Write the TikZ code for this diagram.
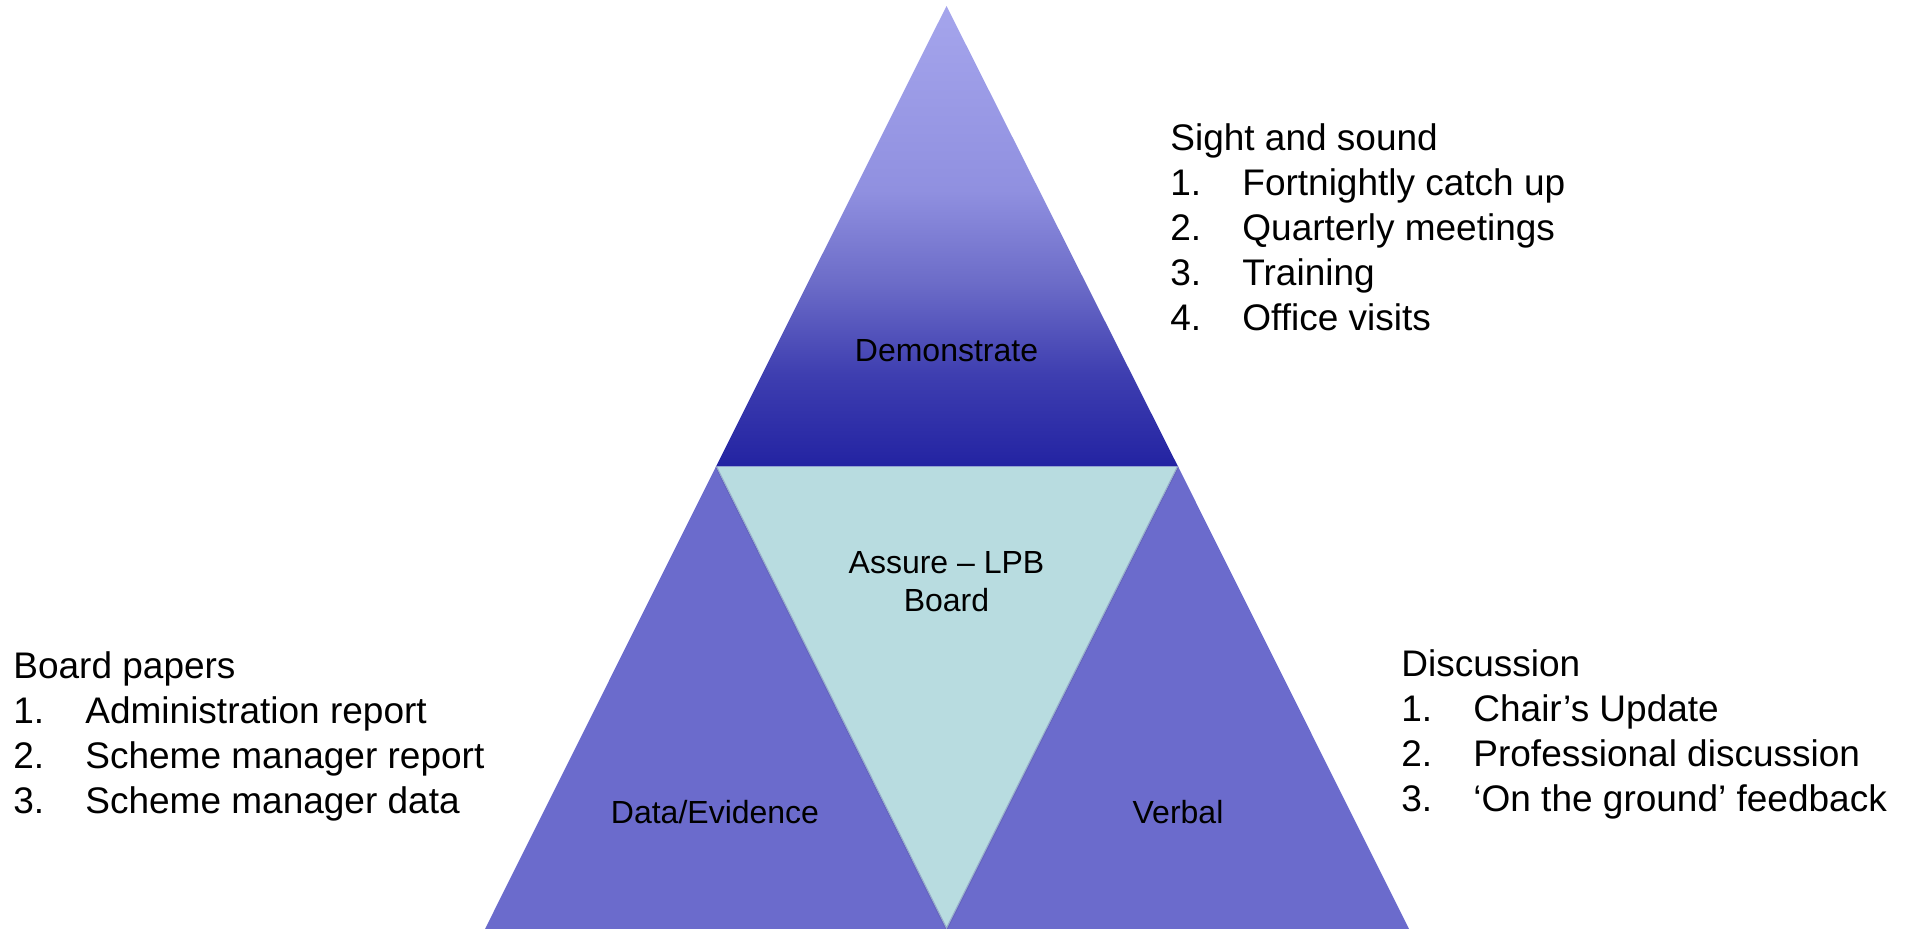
\documentclass[tikz,border=0pt]{standalone}
\usepackage{fontspec}
\setmainfont{Liberation Sans}
\definecolor{sidec}{HTML}{6B6BCC}
\definecolor{cyanc}{HTML}{B8DCE0}
\definecolor{topc}{HTML}{A5A5EC}
\definecolor{gradA}{HTML}{9090E0}
\definecolor{gradB}{HTML}{6C6CC8}
\definecolor{gradC}{HTML}{3E3EB0}
\definecolor{botc}{HTML}{2323A2}
\pgfdeclareverticalshading{demoshade}{100bp}{color(0bp)=(botc); color(25bp)=(botc); color(35bp)=(gradC); color(45bp)=(gradB); color(55bp)=(gradA); color(75bp)=(topc); color(100bp)=(topc)}
\begin{document}
\begin{tikzpicture}[x=0.5pt,y=-0.5pt,
  lbl/.style={font=\fontsize{16}{19}\selectfont, inner sep=0pt, align=center},
  lst/.style={font=\fontsize{18.5}{22}\selectfont, inner sep=0pt, anchor=base west}]
\useasboundingbox (0,0) rectangle (1910,929);
\coordinate (A) at (946.5,6);
\coordinate (ML) at (716,466.5);
\coordinate (MR) at (1178,466.5);
\coordinate (BL) at (485,929);
\coordinate (BR) at (1409,929);
\coordinate (BM) at (946.5,929);
% side triangles
\fill[sidec] (ML) -- (BL) -- (BM) -- cycle;
\fill[sidec] (MR) -- (BM) -- (BR) -- cycle;
% centre inverted triangle
\fill[cyanc] (ML) -- (MR) -- (BM) -- cycle;
\draw[sidec!80!black, opacity=0.35, line width=1pt] (ML) -- (BM) -- (MR);
% top triangle with gradient
\shade[shading=demoshade] (A) -- (MR) -- (ML) -- cycle;
% labels
\node[lbl] (dem) at (946.5,351) {Demonstrate};
\node[lbl] (ass) at (946.5,582) {Assure -- LPB\\Board};
\node[lbl] (dat) at (715,812) {Data/Evidence};
\node[lbl] (ver) at (1178,812) {Verbal};
% top-right list
\node[lst] (s0) at (1170,151) {Sight and sound};
\node[lst] (s1n) at (1170,196) {1.};
\node[lst] (s1) at (1242,196) {Fortnightly catch up};
\node[lst] (s2n) at (1170,241) {2.};
\node[lst] (s2) at (1242,241) {Quarterly meetings};
\node[lst] (s3n) at (1170,286) {3.};
\node[lst] (s3) at (1242,286) {Training};
\node[lst] (s4n) at (1170,331) {4.};
\node[lst] (s4) at (1242,331) {Office visits};
% left list
\node[lst] (b0) at (13,678) {Board papers};
\node[lst] (b1n) at (13,723) {1.};
\node[lst] (b1) at (85,723) {Administration report};
\node[lst] (b2n) at (13,768) {2.};
\node[lst] (b2) at (85,768) {Scheme manager report};
\node[lst] (b3n) at (13,813) {3.};
\node[lst] (b3) at (85,813) {Scheme manager data};
% right list
\node[lst] (d0) at (1401,676) {Discussion};
\node[lst] (d1n) at (1401,721) {1.};
\node[lst] (d1) at (1473,721) {Chair’s Update};
\node[lst] (d2n) at (1401,766) {2.};
\node[lst] (d2) at (1473,766) {Professional discussion};
\node[lst] (d3n) at (1401,811) {3.};
\node[lst] (d3) at (1473,811) {‘On the ground’ feedback};
\end{tikzpicture}
\end{document}
